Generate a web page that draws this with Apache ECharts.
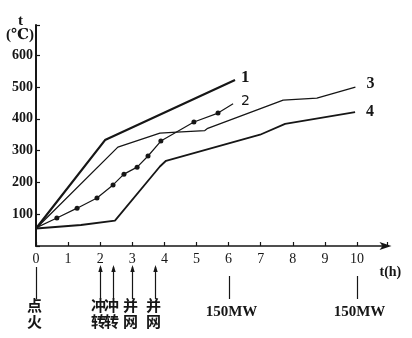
<!DOCTYPE html>
<html><head><meta charset="utf-8">
<script src="https://cdn.jsdelivr.net/npm/echarts@6/dist/echarts.min.js"></script>
<style>html,body{margin:0;padding:0;background:#fff}#c{width:412px;height:338px}</style>
</head><body><div id="c"></div>
<script>
// ---- data ----
const xTicks = [0,1,2,3,4,5,6,7,8,9,10];
const yTicks = [100,200,300,400,500,600];
const curve1 = [[0,55],[2.15,333],[6.2,522]];
const curve2 = [[0,57],[0.65,88],[1.28,119],[1.9,151],[2.4,192],[2.74,226],[3.15,248],[3.49,283],[3.89,330],[4.92,390],[5.67,418],[6.14,447]];
const curve3 = [[0,55],[2.55,311],[3.86,355],[4.39,358],[5.26,363],[5.35,370],[7.7,459],[8.75,465],[9.95,500]];
const curve4 = [[0,55],[1.4,66],[2.46,80],[3.86,250],[4.05,268],[6.98,350],[7.76,384],[9.94,421]];
const curveNames = ['1','2','3','4'];
const eventTimes = [0,2,2.4,3,3.7,6,10];
const eventLabels = ['点\n火','冲\n转','冲\n转','并\n网','并\n网','150MW','150MW'];
const eventArrows = [false,true,true,true,true,false,false];

const INK = '#161616';
const SERIF = '"Liberation Serif","DejaVu Serif",serif';
const CJK = '"Noto Sans CJK SC",sans-serif';

const chart = echarts.init(document.getElementById('c'), null, {renderer:'canvas'});

function lineSeries(data, name, width, lblOpt) {
  return {
    type:'line', name:name, data:data, showSymbol:false, symbol:'none',
    lineStyle:{color:INK, width:width}, itemStyle:{color:INK},
    silent:true, z:3,
    endLabel: Object.assign({show:true, formatter:name, color:INK, fontFamily:SERIF}, lblOpt)
  };
}

const s2 = lineSeries(curve2, curveNames[1], 1.2, {distance:8, fontSize:14, fontWeight:'normal', fontFamily:'"DejaVu Sans",sans-serif', offset:[0,-3]});
s2.showSymbol = true;
s2.symbol = 'circle';
s2.symbolSize = function(v, p){ return (p.dataIndex===0 || p.dataIndex===curve2.length-1) ? 0 : 5; };

chart.setOption({
  animation:false,
  backgroundColor:'#fff',
  grid:{left:36, top:25, width:351.5, height:221, containLabel:false},
  xAxis:{
    type:'value', min:0, max:10.95, interval:1,
    axisLine:{show:true, lineStyle:{color:INK, width:1.6}, symbol:['none','arrow'], symbolSize:[6,12], symbolOffset:[0,4]},
    axisTick:{show:true, inside:true, length:4, lineStyle:{color:INK, width:1.2}},
    axisLabel:{color:INK, fontFamily:SERIF, fontSize:14, margin:6,
      formatter:function(v){ return xTicks.indexOf(Math.round(v))>=0 ? String(Math.round(v)) : ''; }},
    splitLine:{show:false}
  },
  yAxis:{
    type:'value', min:0, max:695, interval:100,
    axisLine:{show:true, lineStyle:{color:INK, width:2}},
    axisTick:{show:true, inside:true, length:4, lineStyle:{color:INK, width:1.2}},
    axisLabel:{color:INK, fontFamily:SERIF, fontSize:14, fontWeight:'bold', margin:3,
      formatter:function(v){ return yTicks.indexOf(v)>=0 ? String(v) : ''; }},
    splitLine:{show:false}
  },
  series:[
    lineSeries(curve1, curveNames[0], 2.2, {distance:6, fontSize:17, fontWeight:'bold', offset:[0,-2]}),
    s2,
    lineSeries(curve3, curveNames[2], 1.3, {distance:11, fontSize:16, fontWeight:'bold', offset:[0,-3]}),
    lineSeries(curve4, curveNames[3], 1.8, {distance:11, fontSize:16, fontWeight:'bold'})
  ]
});

// ---- annotations derived from event arrays via the axis scale ----
const g = [];
g.push({type:'text', left:18, top:14, style:{text:'t', font:'bold 15px '+SERIF, fill:INK}});
g.push({type:'text', left:6, top:28, style:{text:'(℃)', font:'bold 15px '+SERIF, fill:INK}});
const xEnd = chart.convertToPixel({gridIndex:0},[10.95,0]);
g.push({type:'text', x:xEnd[0]-8, y:xEnd[1]+26, style:{text:'t(h)', font:'bold 14px '+SERIF, fill:INK, textVerticalAlign:'middle'}});

eventTimes.forEach(function(t,i){
  const p = chart.convertToPixel({gridIndex:0},[t,0]);
  const x = Math.round(p[0]) + 0.5;
  const isMW = eventLabels[i].indexOf('MW')>=0;
  const y1 = p[1] + (isMW ? 30 : 21);
  const y2 = p[1] + 53;
  g.push({type:'line', shape:{x1:x, y1:y1, x2:x, y2:y2}, style:{stroke:INK, lineWidth:1.2}});
  if (eventArrows[i]) {
    g.push({type:'polygon', shape:{points:[[x,y1-2],[x-2.2,y1+5],[x+2.2,y1+5]]}, style:{fill:INK}});
  }
  if (isMW) {
    g.push({type:'text', x:x+2, y:p[1]+66, style:{text:eventLabels[i], font:'bold 15px '+SERIF, fill:INK, textAlign:'center', textVerticalAlign:'middle'}});
  } else {
    g.push({type:'text', x:x-2, y:p[1]+67, style:{text:eventLabels[i], font:'bold 15px '+CJK, fill:INK, textAlign:'center', textVerticalAlign:'middle', lineHeight:16}});
  }
});
chart.setOption({graphic:g});
</script>
</body></html>
